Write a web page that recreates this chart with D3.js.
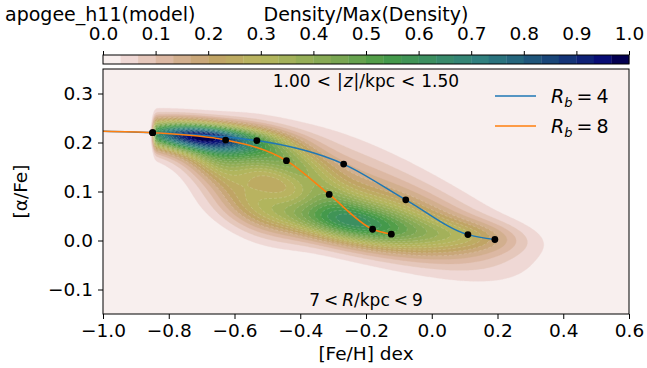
<!DOCTYPE html>
<html>
<head>
<meta charset="utf-8">
<script src="https://cdn.jsdelivr.net/npm/d3@7"></script>
<style>
  body { margin: 0; background: #fff; }
  svg { display: block; font-family: "DejaVu Sans", sans-serif; }
</style>
</head>
<body>
<svg id="chart" width="647" height="368"></svg>
<script>
// ticks
var fehTicks = [-1.0, -0.8, -0.6, -0.4, -0.2, 0.0, 0.2, 0.4, 0.6];
var alphaTicks = [-0.1, 0.0, 0.1, 0.2, 0.3];
var densityTicks = [0.0, 0.1, 0.2, 0.3, 0.4, 0.5, 0.6, 0.7, 0.8, 0.9, 1.0];
var nLevels = 30;

// model tracks: dots ([Fe/H], [alpha/Fe])
var trackStart = [-1.0, 0.223];
var rb4FeH = [-0.849, -0.532, -0.268, -0.079, 0.110, 0.192];
var rb4Alpha = [0.220, 0.204, 0.156, 0.083, 0.012, 0.002];
var rb8FeH = [-0.849, -0.627, -0.442, -0.312, -0.180, -0.123];
var rb8Alpha = [0.220, 0.205, 0.163, 0.094, 0.023, 0.013];

// density map, estimated as a few gaussian blobs (centre, widths, tilt, height)
var blobFeH   = [-0.72, -0.62, -0.27, -0.18, 0.12, -0.38, -0.55, -0.15, -0.65];
var blobAlpha = [0.213, 0.190, 0.036, 0.045, 0.010, 0.130, 0.085, 0.090, 0.150];
var blobSx    = [0.14, 0.16, 0.16, 0.22, 0.11, 0.10, 0.09, 0.22, 0.07];
var blobSy    = [0.018, 0.028, 0.028, 0.045, 0.022, 0.035, 0.045, 0.062, 0.030];
var blobTilt  = [-0.04, -0.12, -0.10, -0.15, -0.05, -0.40, -0.25, -0.30, -0.20];
var blobAmp   = [0.55, 0.35, 0.30, 0.20, 0.10, 0.14, 0.13, 0.09, 0.12];
var edgeFeH = -0.846, edgeWidth = 0.003;

// matplotlib gist_earth segment data, used reversed
var earthRed = [[0, 0], [0.2824, 0.1882], [0.4588, 0.2714], [0.5490, 0.4719], [0.6980, 0.7176], [0.7882, 0.7553], [1, 0.9922]];
var earthGreen = [[0, 0], [0.0275, 0], [0.1098, 0.1893], [0.1647, 0.3035], [0.2078, 0.3841], [0.2824, 0.5020], [0.5216, 0.6397],
    [0.6980, 0.7171], [0.7882, 0.6392], [0.7922, 0.6413], [0.8000, 0.6447], [0.8078, 0.6481], [0.8157, 0.6549], [0.8667, 0.6991],
    [0.8745, 0.7103], [0.8824, 0.7216], [0.8902, 0.7323], [0.8980, 0.7430], [0.9412, 0.8275], [0.9569, 0.8635], [0.9647, 0.8816],
    [0.9961, 0.9733], [1, 0.9843]];
var earthBlue = [[0, 0], [0.0039, 0.1684], [0.0078, 0.2212], [0.0275, 0.4329], [0.0314, 0.4549], [0.2824, 0.5004], [0.4667, 0.2748],
    [0.5451, 0.3205], [0.7843, 0.3961], [0.8941, 0.6651], [1, 0.9843]];

var margin = {top: 69, right: 18, bottom: 54, left: 103},
    width = 647 - margin.left - margin.right,
    height = 368 - margin.top - margin.bottom;

var x = d3.scaleLinear().domain([-1.0, 0.6]).range([0, width]);
var y = d3.scaleLinear().domain([-0.15, 0.35]).range([height, 0]);

function channel(seg) {
    return d3.scaleLinear()
        .domain(seg.map(function (s) { return s[0]; }))
        .range(seg.map(function (s) { return s[1]; }))
        .clamp(true);
}
var cr = channel(earthRed), cg = channel(earthGreen), cb = channel(earthBlue);
function earthR(v) {
    var t = 1 - v;
    return d3.rgb(255 * cr(t), 255 * cg(t), 255 * cb(t)).formatHex();
}

var levels = d3.range(nLevels + 1).map(function (k) { return k / nLevels; });
function bandColor(k) { return earthR((levels[k] + levels[k + 1]) / 2); }

function density(feh, alpha) {
    var v = 0;
    for (var k = 0; k < blobFeH.length; k++) {
        var dx = feh - blobFeH[k];
        var dy = alpha - blobAlpha[k] - blobTilt[k] * dx;
        v += blobAmp[k] * Math.exp(-0.5 * (dx * dx / (blobSx[k] * blobSx[k]) + dy * dy / (blobSy[k] * blobSy[k])));
    }
    return v / (1 + Math.exp(-(feh - edgeFeH) / edgeWidth));
}

var svg = d3.select("#chart");
var g = svg.append("g")
    .attr("transform", "translate(" + margin.left + "," + margin.top + ")");

g.append("clipPath").attr("id", "plot-clip")
    .append("rect").attr("width", width).attr("height", height);

var plot = g.append("g").attr("clip-path", "url(#plot-clip)");

// lowest band fills the whole panel
plot.append("rect")
    .attr("width", width).attr("height", height)
    .attr("fill", bandColor(0));

// sample the density on a grid and contour it
var cell = 1.5;
var nx = Math.ceil(width / cell), ny = Math.ceil(height / cell);
var grid = new Array(nx * ny);
for (var j = 0; j < ny; j++) {
    for (var i = 0; i < nx; i++) {
        grid[j * nx + i] = density(x.invert((i + 0.5) * cell), y.invert((j + 0.5) * cell));
    }
}
var peak = d3.max(grid);
grid = grid.map(function (v) { return v / peak; });

var bands = d3.contours().size([nx, ny]).thresholds(levels.slice(1, nLevels))(grid);
var path = d3.geoPath(d3.geoIdentity().scale(cell));

plot.selectAll(".band")
    .data(bands)
    .enter().append("path")
    .attr("class", "band")
    .attr("d", path)
    .attr("fill", function (d, k) { return bandColor(k + 1); })
    .attr("stroke", function (d, k) { return bandColor(k + 1); })
    .attr("stroke-width", 0.3);

// faint white contour lines in the inner part
plot.selectAll(".iso")
    .data(bands.filter(function (d) { return d.value > 0.15; }))
    .enter().append("path")
    .attr("class", "iso")
    .attr("d", path)
    .attr("fill", "none")
    .attr("stroke", "#fff")
    .attr("stroke-opacity", 0.35)
    .attr("stroke-width", 0.5)
    .attr("stroke-dasharray", "3,2");

// tracks
var line = d3.line()
    .x(function (d) { return x(d[0]); })
    .y(function (d) { return y(d[1]); })
    .curve(d3.curveMonotoneX);

function track(fehs, alphas) {
    return [trackStart].concat(fehs.map(function (f, k) { return [f, alphas[k]]; }));
}

var tracks = [
    {name: "4", color: "#1f77b4", feh: rb4FeH, alpha: rb4Alpha},
    {name: "8", color: "#ff7f0e", feh: rb8FeH, alpha: rb8Alpha}
];

tracks.forEach(function (t) {
    plot.append("path")
        .attr("d", line(track(t.feh, t.alpha)))
        .attr("fill", "none")
        .attr("stroke", t.color)
        .attr("stroke-width", 1.5);
});

tracks.forEach(function (t) {
    plot.selectAll(null)
        .data(t.feh.map(function (f, k) { return [f, t.alpha[k]]; }))
        .enter().append("circle")
        .attr("cx", function (d) { return x(d[0]); })
        .attr("cy", function (d) { return y(d[1]); })
        .attr("r", 3.4)
        .attr("fill", "#000");
});

// legend
var legend = g.append("g")
    .attr("transform", "translate(" + (width - 134) + ",27)")
    .style("font-size", "19px");

tracks.forEach(function (t, k) {
    var row = legend.append("g").attr("transform", "translate(0," + (k * 30) + ")");
    row.append("line")
        .attr("x1", 0).attr("x2", 41)
        .attr("stroke", t.color)
        .attr("stroke-width", 1.5);
    var label = row.append("text").attr("x", 56).attr("y", 7);
    label.append("tspan").attr("font-style", "italic").text("R");
    label.append("tspan").attr("font-style", "italic").attr("font-size", "13px").attr("dy", 4).text("b");
    label.append("tspan").attr("dy", -4).attr("dx", 4).text("=");
    label.append("tspan").attr("dx", 4).text(t.name);
});

// annotations
var zText = g.append("text")
    .attr("x", width / 2).attr("y", 18)
    .attr("text-anchor", "middle")
    .style("font-size", "17px");
zText.append("tspan").text("1.00");
zText.append("tspan").attr("dx", 6).text("<");
zText.append("tspan").attr("dx", 6).text("|");
zText.append("tspan").attr("dx", 1).attr("font-style", "italic").text("z");
zText.append("tspan").attr("dx", 1).text("|/kpc");
zText.append("tspan").attr("dx", 6).text("<");
zText.append("tspan").attr("dx", 6).text("1.50");

var rText = g.append("text")
    .attr("x", width / 2).attr("y", height - 8)
    .attr("text-anchor", "middle")
    .style("font-size", "17px");
rText.append("tspan").text("7");
rText.append("tspan").attr("dx", 4).text("<");
rText.append("tspan").attr("dx", 4).attr("font-style", "italic").text("R");
rText.append("tspan").text("/kpc");
rText.append("tspan").attr("dx", 4).text("<");
rText.append("tspan").attr("dx", 4).text("9");

// axes
function fmt(d) { return d3.format(".1f")(d).replace("-", "\u2212"); }

var xAxis = g.append("g")
    .attr("transform", "translate(0," + height + ")")
    .call(d3.axisBottom(x).tickValues(fehTicks).tickFormat(fmt).tickSizeOuter(0).tickSize(5).tickPadding(5));
var yAxis = g.append("g")
    .call(d3.axisLeft(y).tickValues(alphaTicks).tickFormat(fmt).tickSizeOuter(0).tickSize(5).tickPadding(5));

[xAxis, yAxis].forEach(function (a) {
    a.select(".domain").remove();
    a.selectAll("text").style("font-size", "18.5px").attr("fill", "#000").style("font-family", "DejaVu Sans");
    a.selectAll("line").attr("stroke", "#000").attr("stroke-width", 1);
});

g.append("rect")
    .attr("width", width).attr("height", height)
    .attr("fill", "none")
    .attr("stroke", "#000")
    .attr("stroke-width", 1);

g.append("text")
    .attr("x", width / 2).attr("y", height + 46)
    .attr("text-anchor", "middle")
    .style("font-size", "18.5px")
    .text("[Fe/H] dex");

g.append("text")
    .attr("transform", "rotate(-90)")
    .attr("x", -height / 2).attr("y", -76)
    .attr("text-anchor", "middle")
    .style("font-size", "18.5px")
    .text("[\u03b1/Fe]");

// colorbar on top
var cx = d3.scaleLinear().domain([0, 1]).range([0, width]);
var cbar = svg.append("g")
    .attr("transform", "translate(" + margin.left + ",55)");

cbar.selectAll("rect.bin")
    .data(d3.range(nLevels))
    .enter().append("rect")
    .attr("class", "bin")
    .attr("x", function (k) { return cx(levels[k]); })
    .attr("width", function (k) { return cx(levels[k + 1]) - cx(levels[k]) + 0.3; })
    .attr("height", 9)
    .attr("fill", function (k) { return bandColor(k); });

cbar.append("rect")
    .attr("width", width).attr("height", 9)
    .attr("fill", "none")
    .attr("stroke", "#000")
    .attr("stroke-width", 1);

var cAxis = cbar.append("g")
    .call(d3.axisTop(cx).tickValues(densityTicks).tickFormat(d3.format(".1f")).tickSizeOuter(0).tickSize(4).tickPadding(11));
cAxis.select(".domain").remove();
cAxis.selectAll("text").style("font-size", "18.5px").attr("fill", "#000").style("font-family", "DejaVu Sans");
cAxis.selectAll("line").attr("stroke", "#000");

svg.append("text")
    .attr("x", margin.left + width / 2).attr("y", 21)
    .attr("text-anchor", "middle")
    .style("font-size", "19px")
    .text("Density/Max(Density)");

svg.append("text")
    .attr("x", 5).attr("y", 21)
    .style("font-size", "19px")
    .text("apogee_h11(model)");
</script>
</body>
</html>
